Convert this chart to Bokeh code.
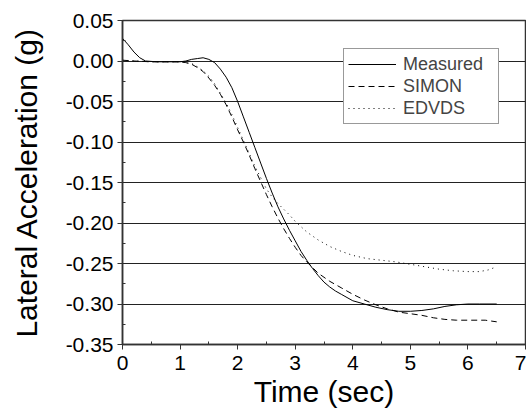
from bokeh.plotting import figure
from bokeh.models import Range1d, Legend, LegendItem, PrintfTickFormatter, FixedTicker
from bokeh.embed import file_html
from bokeh.resources import INLINE

# Time (sec) and lateral acceleration (g)
meas_t = [0, 0.1, 0.2, 0.3, 0.4, 0.6, 0.8, 1.0, 1.1, 1.2, 1.3, 1.4, 1.5, 1.6, 1.7, 1.8, 1.9,
          2.0, 2.1, 2.2, 2.3, 2.4, 2.5, 2.6, 2.7, 2.8, 2.9, 3.0, 3.1, 3.2, 3.3, 3.4, 3.5, 3.6,
          3.7, 3.8, 3.9, 4.0, 4.2, 4.4, 4.6, 4.8, 5.0, 5.2, 5.4, 5.6, 5.8, 6.0, 6.2, 6.5]
meas_a = [0.028, 0.020, 0.011, 0.004, 0.000, -0.001, -0.001, -0.001, 0.000, 0.002, 0.003,
          0.004, 0.002, -0.002, -0.010, -0.020, -0.033, -0.050, -0.069, -0.088, -0.107,
          -0.126, -0.145, -0.163, -0.180, -0.195, -0.209, -0.222, -0.235, -0.246, -0.256,
          -0.265, -0.273, -0.279, -0.284, -0.288, -0.292, -0.296, -0.300, -0.304, -0.307,
          -0.309, -0.309, -0.308, -0.306, -0.303, -0.301, -0.300, -0.300, -0.300]

simon_t = [0, 0.2, 0.5, 1.0, 1.1, 1.2, 1.3, 1.4, 1.5, 1.6, 1.7, 1.8, 1.9, 2.0, 2.1, 2.2, 2.3,
           2.4, 2.5, 2.6, 2.7, 2.8, 2.9, 3.0, 3.1, 3.2, 3.3, 3.4, 3.6, 3.8, 4.0, 4.2, 4.4,
           4.6, 4.8, 5.0, 5.2, 5.4, 5.6, 5.8, 6.0, 6.3, 6.5]
simon_a = [0.001, 0.000, -0.001, -0.001, -0.002, -0.004, -0.008, -0.013, -0.021, -0.030,
           -0.041, -0.054, -0.069, -0.085, -0.100, -0.116, -0.133, -0.149, -0.165, -0.180,
           -0.194, -0.207, -0.219, -0.230, -0.240, -0.248, -0.255, -0.262, -0.272, -0.280,
           -0.288, -0.295, -0.301, -0.306, -0.310, -0.312, -0.314, -0.317, -0.319, -0.320,
           -0.320, -0.320, -0.322]

edvds_t = [0, 0.5, 1.0, 1.2, 1.3, 1.4, 1.5, 1.6, 1.7, 1.8, 1.9, 2.0, 2.1, 2.2, 2.3, 2.4, 2.5,
           2.6, 2.7, 2.8, 2.9, 3.0, 3.2, 3.4, 3.6, 3.8, 4.0, 4.25, 4.5, 4.75, 5.0, 5.25, 5.5,
           5.75, 6.0, 6.2, 6.35, 6.5]
edvds_a = [0.001, -0.001, -0.001, -0.003, -0.007, -0.012, -0.019, -0.028, -0.040, -0.052,
           -0.066, -0.082, -0.098, -0.114, -0.130, -0.144, -0.158, -0.168, -0.176, -0.183,
           -0.190, -0.198, -0.211, -0.221, -0.229, -0.235, -0.240, -0.244, -0.246, -0.248,
           -0.251, -0.254, -0.257, -0.259, -0.260, -0.260, -0.258, -0.254]

x_ticks = [0, 1, 2, 3, 4, 5, 6, 7]
y_ticks = [0.05, 0.00, -0.05, -0.10, -0.15, -0.20, -0.25, -0.30, -0.35]

FONT = "Liberation Sans"

p = figure(width=526, height=411, output_backend="svg", toolbar_location=None,
           x_range=Range1d(0, 7), y_range=Range1d(-0.35, 0.05),
           min_border_left=122, min_border_right=1, min_border_top=20, min_border_bottom=67)

p.xgrid.visible = False
p.ygrid.ticker = FixedTicker(ticks=y_ticks)
p.ygrid.grid_line_color = "#222222"
p.ygrid.grid_line_width = 1
p.outline_line_color = "#333333"
p.outline_line_width = 1.5

p.xaxis.ticker = FixedTicker(ticks=x_ticks, minor_ticks=[0.5 + i for i in range(7)])
p.yaxis.ticker = FixedTicker(ticks=y_ticks, minor_ticks=[0.025 - 0.05 * i for i in range(8)])
p.yaxis.formatter = PrintfTickFormatter(format="%.2f")

for ax in (p.xaxis[0], p.yaxis[0]):
    ax.axis_line_color = "#333333"
    ax.axis_line_width = 1.5
    ax.major_tick_line_color = "#333333"
    ax.minor_tick_line_color = "#333333"
    ax.major_tick_out = 5
    ax.major_tick_in = 0
    ax.minor_tick_out = 0
    ax.minor_tick_in = 3
    ax.major_label_text_font = FONT
    ax.major_label_text_font_size = "21px"
    ax.major_label_text_color = "black"
    ax.axis_label_text_font = FONT
    ax.axis_label_text_font_style = "normal"
    ax.axis_label_text_color = "black"

p.xaxis.axis_label = "Time (sec)"
p.yaxis.axis_label = "Lateral Acceleration (g)"
p.xaxis.axis_label_text_font_size = "30px"
p.yaxis.axis_label_text_font_size = "30px"
p.xaxis.major_label_standoff = 6
p.yaxis.major_label_standoff = 4
p.xaxis.axis_label_standoff = 2
p.yaxis.axis_label_standoff = 20

r1 = p.line(meas_t, meas_a, line_color="black", line_width=1)
r2 = p.line(simon_t, simon_a, line_color="black", line_width=1, line_dash="6 4")
r3 = p.line(edvds_t, edvds_a, line_color="black", line_width=1, line_dash="1 4")

legend = Legend(items=[LegendItem(label="Measured", renderers=[r1]),
                       LegendItem(label="SIMON", renderers=[r2]),
                       LegendItem(label="EDVDS", renderers=[r3])],
                location=(221, 220))
legend.label_text_font = FONT
legend.label_text_font_size = "18px"
legend.label_text_line_height = 1.0
legend.label_height = 22
legend.label_width = 91
legend.glyph_width = 48
legend.glyph_height = 22
legend.spacing = 0
legend.padding = 4
legend.margin = 0
legend.label_standoff = 7
legend.border_line_color = "#333333"
legend.border_line_width = 1.2
legend.background_fill_alpha = 1
p.add_layout(legend, "center")

open("out.html", "w").write(file_html(p, INLINE))
